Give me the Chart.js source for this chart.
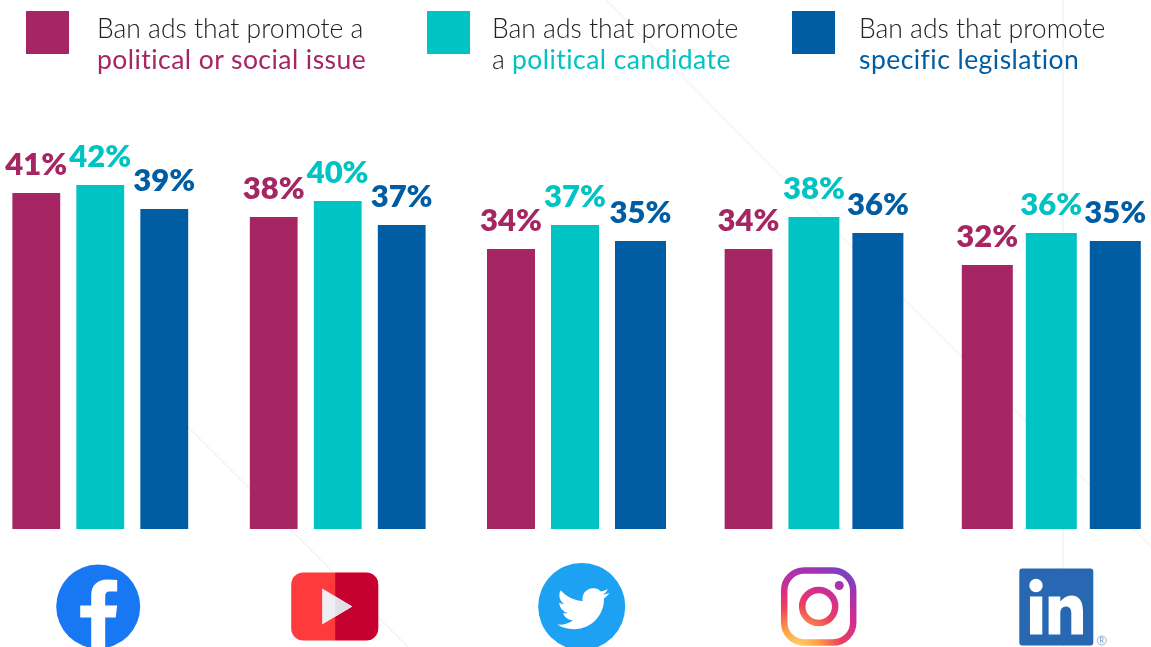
<!DOCTYPE html>
<html>
<head>
<meta charset="utf-8">
<script src="https://cdn.jsdelivr.net/npm/chart.js@4"></script>
<style>
  html, body { margin: 0; padding: 0; background: #fff; overflow: hidden; }
  #page { position: relative; width: 1151px; height: 647px; overflow: hidden; }
  #bg { position: absolute; left: 0; top: 0; }
  #chart { position: absolute; left: -17px; top: 0; }
  .swatch { position: absolute; top: 11px; width: 43px; height: 43px; }
  .legend-text { position: absolute; top: 13px; font: 300 26.5px/31px Lato, sans-serif; color: #222; white-space: nowrap; }
  .legend-text span { font-weight: 400; letter-spacing: 0.45px; }
</style>
</head>
<body>
<div id="page">
  <svg id="bg" width="1151" height="647">
    <g stroke="#f6f6f6" stroke-width="2" fill="none">
      <line x1="606" y1="0" x2="1151" y2="547"></line>
      <line x1="188" y1="427" x2="408" y2="647"></line>
      <line x1="1063" y1="0" x2="1063" y2="647"></line>
    </g>
  </svg>
  <canvas id="chart" width="1187" height="647"></canvas>
</div>
<script>
const platforms = ['Facebook', 'YouTube', 'Twitter', 'Instagram', 'LinkedIn']
const issueValues = [41, 38, 34, 34, 32]
const candidateValues = [42, 40, 37, 38, 36]
const legislationValues = [39, 37, 35, 36, 35]

const seriesNames = ['political or social issue', 'political candidate', 'specific legislation']
const legendFirstLines = ['Ban ads that promote a', 'Ban ads that promote', 'Ban ads that promote']
const legendSecondPrefix = ['', 'a ', '']

const colors = ['#a52663', '#00c3c3', '#005da3']
const swatchLefts = [26, 427, 792]
const legendLefts = [97, 492, 859]

// the source picture has slightly thinner bars on the left side
const narrowUpTo = [4, 3, 2]

swatchLefts.forEach((left, i) => {
  const page = document.getElementById('page')
  const swatch = document.createElement('div')
  swatch.className = 'swatch'
  swatch.style.left = left + 'px'
  swatch.style.background = colors[i]
  page.appendChild(swatch)

  const text = document.createElement('div')
  text.className = 'legend-text'
  text.style.left = legendLefts[i] + 'px'
  text.innerHTML = legendFirstLines[i] + '<br>' + legendSecondPrefix[i] +
    '<span style="color:' + colors[i] + '">' + seriesNames[i] + '</span>'
  page.appendChild(text)
})

const valueLabels = {
  id: 'valueLabels',
  afterDatasetsDraw(chart) {
    const ctx = chart.ctx
    ctx.save()
    ctx.font = '800 31px Lato, sans-serif'
    ctx.textAlign = 'center'
    ctx.textBaseline = 'alphabetic'
    chart.data.datasets.forEach((ds, di) => {
      ctx.fillStyle = colors[di]
      chart.getDatasetMeta(di).data.forEach((bar, i) => {
        const narrow = i < narrowUpTo[di] ? 1.5 : 0
        ctx.fillText(ds.data[i] + '%', bar.x - narrow, bar.y - 18)
      })
    })
    ctx.restore()
  },
}

function roundRect(ctx, x, y, w, h, r) {
  ctx.beginPath()
  ctx.roundRect(x, y, w, h, r)
}

const birdPath = new Path2D('M23.953 4.57a10 10 0 01-2.825.775 4.958 4.958 0 002.163-2.723c-.951.555-2.005.959-3.127 1.184a4.92 4.92 0 00-8.384 4.482C7.69 8.095 4.067 6.13 1.64 3.162a4.822 4.822 0 00-.666 2.475c0 1.71.87 3.213 2.188 4.096a4.904 4.904 0 01-2.228-.616v.06a4.923 4.923 0 003.946 4.827 4.996 4.996 0 01-2.212.085 4.936 4.936 0 004.604 3.417 9.867 9.867 0 01-6.102 2.105c-.39 0-.779-.023-1.17-.067a13.995 13.995 0 007.557 2.209c9.053 0 13.998-7.496 13.998-13.985 0-.21 0-.42-.015-.63A9.935 9.935 0 0024 4.59z')

const iconDrawers = {
  Facebook(ctx) {
    ctx.fillStyle = '#1877f2'
    ctx.beginPath()
    ctx.arc(0, 0, 42, 0, Math.PI * 2)
    ctx.fill()
    ctx.fillStyle = '#fff'
    ctx.beginPath()
    ctx.moveTo(-7, 42)
    ctx.lineTo(-7, 11)
    ctx.lineTo(-18, 11)
    ctx.lineTo(-18, -1)
    ctx.lineTo(-7, -1)
    ctx.lineTo(-7, -11)
    ctx.bezierCurveTo(-7, -22, 0, -27, 9, -27)
    ctx.lineTo(19, -26.5)
    ctx.lineTo(19, -15)
    ctx.lineTo(12, -15)
    ctx.bezierCurveTo(8, -15, 7, -13, 7, -10)
    ctx.lineTo(7, -1)
    ctx.lineTo(19, -1)
    ctx.lineTo(17.5, 11)
    ctx.lineTo(7, 11)
    ctx.lineTo(7, 42)
    ctx.closePath()
    ctx.fill()
  },
  YouTube(ctx) {
    ctx.fillStyle = '#ff3a3c'
    roundRect(ctx, -43.5, -34, 87, 68, 12)
    ctx.fill()
    ctx.save()
    ctx.beginPath()
    ctx.rect(0.5, -34, 44, 68)
    ctx.clip()
    ctx.fillStyle = '#c60030'
    roundRect(ctx, -43.5, -34, 87, 68, 12)
    ctx.fill()
    ctx.restore()
    ctx.fillStyle = '#eeeef3'
    ctx.beginPath()
    ctx.moveTo(-12.5, -18)
    ctx.lineTo(17.5, 0)
    ctx.lineTo(-12.5, 18)
    ctx.closePath()
    ctx.fill()
    ctx.save()
    ctx.beginPath()
    ctx.rect(0.5, -34, 44, 68)
    ctx.clip()
    ctx.fillStyle = '#e0e0e6'
    ctx.beginPath()
    ctx.moveTo(-12.5, -18)
    ctx.lineTo(17.5, 0)
    ctx.lineTo(-12.5, 18)
    ctx.closePath()
    ctx.fill()
    ctx.restore()
  },
  Twitter(ctx) {
    ctx.fillStyle = '#1da1f2'
    ctx.beginPath()
    ctx.arc(0, 0, 43.5, 0, Math.PI * 2)
    ctx.fill()
    ctx.save()
    ctx.translate(-24.5, -23)
    ctx.scale(2.17, 2.1)
    ctx.fillStyle = '#fff'
    ctx.fill(birdPath)
    ctx.restore()
  },
  Instagram(ctx) {
    const g = ctx.createRadialGradient(-22, 44, 0, -22, 44, 100)
    g.addColorStop(0, '#ffdc78')
    g.addColorStop(0.22, '#fca245')
    g.addColorStop(0.45, '#ee3f5e')
    g.addColorStop(0.62, '#d62e8c')
    g.addColorStop(0.82, '#a032b4')
    g.addColorStop(1, '#5a50d0')
    ctx.strokeStyle = g
    ctx.fillStyle = g
    ctx.lineWidth = 6.5
    roundRect(ctx, -34.5, -36, 69, 72, 20)
    ctx.stroke()
    ctx.beginPath()
    ctx.arc(0, 0, 16.5, 0, Math.PI * 2)
    ctx.stroke()
    ctx.beginPath()
    ctx.arc(20.5, -21, 4.5, 0, Math.PI * 2)
    ctx.fill()
  },
  LinkedIn(ctx) {
    ctx.fillStyle = '#2867b2'
    roundRect(ctx, -37, -38, 74, 77, 3)
    ctx.fill()
    ctx.fillStyle = '#fff'
    ctx.beginPath()
    ctx.arc(-20.3, -21, 6.7, 0, Math.PI * 2)
    ctx.fill()
    ctx.fillRect(-26.3, -10, 12.3, 38)
    ctx.beginPath()
    ctx.moveTo(-7.7, -10)
    ctx.lineTo(4, -10)
    ctx.lineTo(4, -5)
    ctx.bezierCurveTo(7, -9, 11, -11, 15, -11)
    ctx.bezierCurveTo(23, -11, 26.7, -5, 26.7, 5)
    ctx.lineTo(26.7, 28)
    ctx.lineTo(15, 28)
    ctx.lineTo(15, 7)
    ctx.bezierCurveTo(15, 2, 13, 0, 9.5, 0)
    ctx.bezierCurveTo(6, 0, 4, 3, 4, 7)
    ctx.lineTo(4, 28)
    ctx.lineTo(-7.7, 28)
    ctx.closePath()
    ctx.fill()
    ctx.strokeStyle = '#7ba3d6'
    ctx.lineWidth = 0.8
    ctx.beginPath()
    ctx.arc(45.5, 34, 4.5, 0, Math.PI * 2)
    ctx.stroke()
    ctx.fillStyle = '#5f90cc'
    ctx.font = '7px Lato, sans-serif'
    ctx.textAlign = 'center'
    ctx.textBaseline = 'middle'
    ctx.fillText('R', 45.5, 34.3)
  },
}

// icon centres sit a little off the group centre in the source
const iconNudge = [-3.5, -4.4, 5.2, 4.8, 5]
const iconRowY = 606.5

const platformIcons = {
  id: 'platformIcons',
  afterDraw(chart) {
    const ctx = chart.ctx
    const x = chart.scales.x
    platforms.forEach((name, i) => {
      ctx.save()
      ctx.translate(x.getPixelForValue(i) + iconNudge[i], iconRowY)
      iconDrawers[name](ctx)
      ctx.restore()
    })
  },
}

const makeSeries = (name, values, di) => ({
  label: name,
  data: values,
  backgroundColor: colors[di],
  borderColor: 'rgba(0,0,0,0)',
  borderSkipped: false,
  borderWidth: (c) => ({ left: 0, top: 0, bottom: 0, right: c.dataIndex < narrowUpTo[di] ? 3 : 0 }),
  categoryPercentage: 0.8087,
  barPercentage: 0.797,
  // bars in the source start one unit below zero
  base: -1,
})

new Chart(document.getElementById('chart'), {
  type: 'bar',
  data: {
    labels: platforms,
    datasets: [
      makeSeries(seriesNames[0], issueValues, 0),
      makeSeries(seriesNames[1], candidateValues, 1),
      makeSeries(seriesNames[2], legislationValues, 2),
    ],
  },
  options: {
    responsive: false,
    animation: false,
    layout: { padding: { bottom: 118 } },
    plugins: { legend: { display: false }, tooltip: { enabled: false } },
    scales: {
      x: { display: false },
      y: { display: false, min: -1, max: 65.125 },
    },
  },
  plugins: [valueLabels, platformIcons],
})
</script>
</body>
</html>
